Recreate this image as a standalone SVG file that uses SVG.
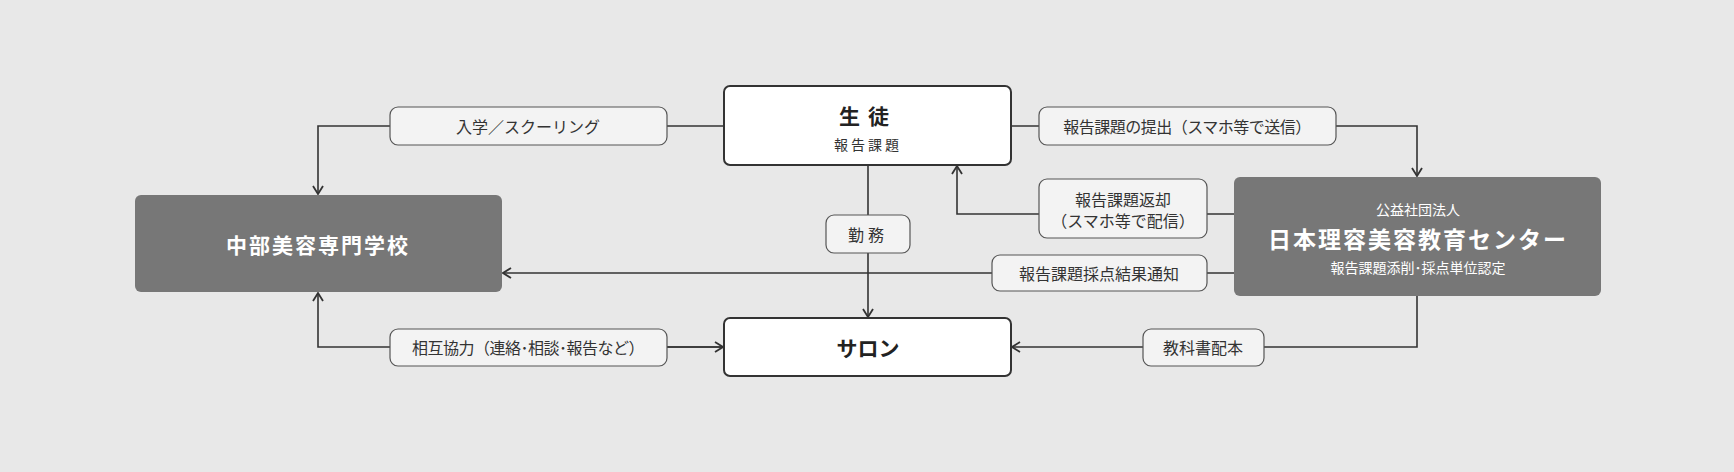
<svg xmlns="http://www.w3.org/2000/svg" width="1734" height="472" viewBox="0 0 1734 472">
<style>
text{font-family:"Noto Sans CJK JP","Noto Sans",sans-serif;text-anchor:middle;dominant-baseline:central}
.box{fill:#fff;stroke:#333;stroke-width:2}
.dark{fill:#777}
.lbl{fill:#f3f3f3;stroke:#555;stroke-width:1.2}
.lt{font-size:16px;fill:#333}
.ln{fill:none;stroke:#333;stroke-width:1.6}
.w{fill:#fff}
</style>
<defs>
<marker id="a" viewBox="0 0 12 12" refX="11" refY="6" markerWidth="12" markerHeight="12" markerUnits="userSpaceOnUse" orient="auto">
<path d="M3,1 L11,6 L3,11" fill="none" stroke="#333" stroke-width="1.8"/>
</marker>
</defs>
<rect width="1734" height="472" fill="#e8e8e8"/>
<g id="connectors">
<path class="ln" d="M724,126 H318 V194" marker-end="url(#a)"/>
<path class="ln" d="M724,347 H318 V293" marker-end="url(#a)"/>
<path class="ln" d="M667,347 H723" marker-end="url(#a)"/>
<path class="ln" d="M868,165 V317" marker-end="url(#a)"/>
<path class="ln" d="M1011,126 H1417 V176" marker-end="url(#a)"/>
<path class="ln" d="M1234,214 H957 V166" marker-end="url(#a)"/>
<path class="ln" d="M1234,273 H503" marker-end="url(#a)"/>
<path class="ln" d="M1417,296 V347 H1012" marker-end="url(#a)"/>
</g>
<g id="label-nyugaku"><rect class="lbl" x="390" y="107" width="277" height="38" rx="8"/><text class="lt" x="528" y="126">入学／スクーリング</text></g>
<g id="label-kyoryoku"><rect class="lbl" x="390" y="329" width="277" height="37" rx="8"/><text class="lt" x="528" y="347" letter-spacing="-0.5">相互協力（連絡･相談･報告など）</text></g>
<g id="label-kinmu"><rect class="lbl" x="826" y="215" width="84" height="38" rx="8"/><text class="lt" x="868" y="234" letter-spacing="4">勤務</text></g>
<g id="label-teishutsu"><rect class="lbl" x="1039" y="107" width="297" height="38" rx="8"/><text class="lt" x="1187" y="126" letter-spacing="-0.5">報告課題の提出（スマホ等で送信）</text></g>
<g id="label-henkyaku"><rect class="lbl" x="1039" y="179" width="168" height="59" rx="8"/><text class="lt" x="1123" y="199">報告課題返却</text><text class="lt" x="1123" y="220">（スマホ等で配信）</text></g>
<g id="label-kekka"><rect class="lbl" x="992" y="255" width="215" height="36" rx="8"/><text class="lt" x="1099" y="273">報告課題採点結果通知</text></g>
<g id="label-kyokasho"><rect class="lbl" x="1143" y="329" width="121" height="37" rx="8"/><text class="lt" x="1203" y="347">教科書配本</text></g>
<g id="student"><rect class="box" x="724" y="86" width="287" height="79" rx="6"/><text x="868" y="115" font-size="21" font-weight="bold" fill="#222" letter-spacing="8">生徒</text><text x="868" y="144" font-size="14" fill="#333" letter-spacing="3">報告課題</text></g>
<g id="salon"><rect class="box" x="724" y="318" width="287" height="58" rx="6"/><text x="868" y="347" font-size="21" font-weight="bold" fill="#222">サロン</text></g>
<g id="school"><rect class="dark" x="135" y="195" width="367" height="97" rx="6"/><text class="w" x="318" y="244" font-size="21" font-weight="bold" letter-spacing="2">中部美容専門学校</text></g>
<g id="center"><rect class="dark" x="1234" y="177" width="367" height="119" rx="6"/><text class="w" x="1418" y="209" font-size="14">公益社団法人</text><text class="w" x="1418" y="238" font-size="23" font-weight="bold" letter-spacing="2">日本理容美容教育センター</text><text class="w" x="1418" y="267" font-size="14">報告課題添削･採点単位認定</text></g>
</svg>
